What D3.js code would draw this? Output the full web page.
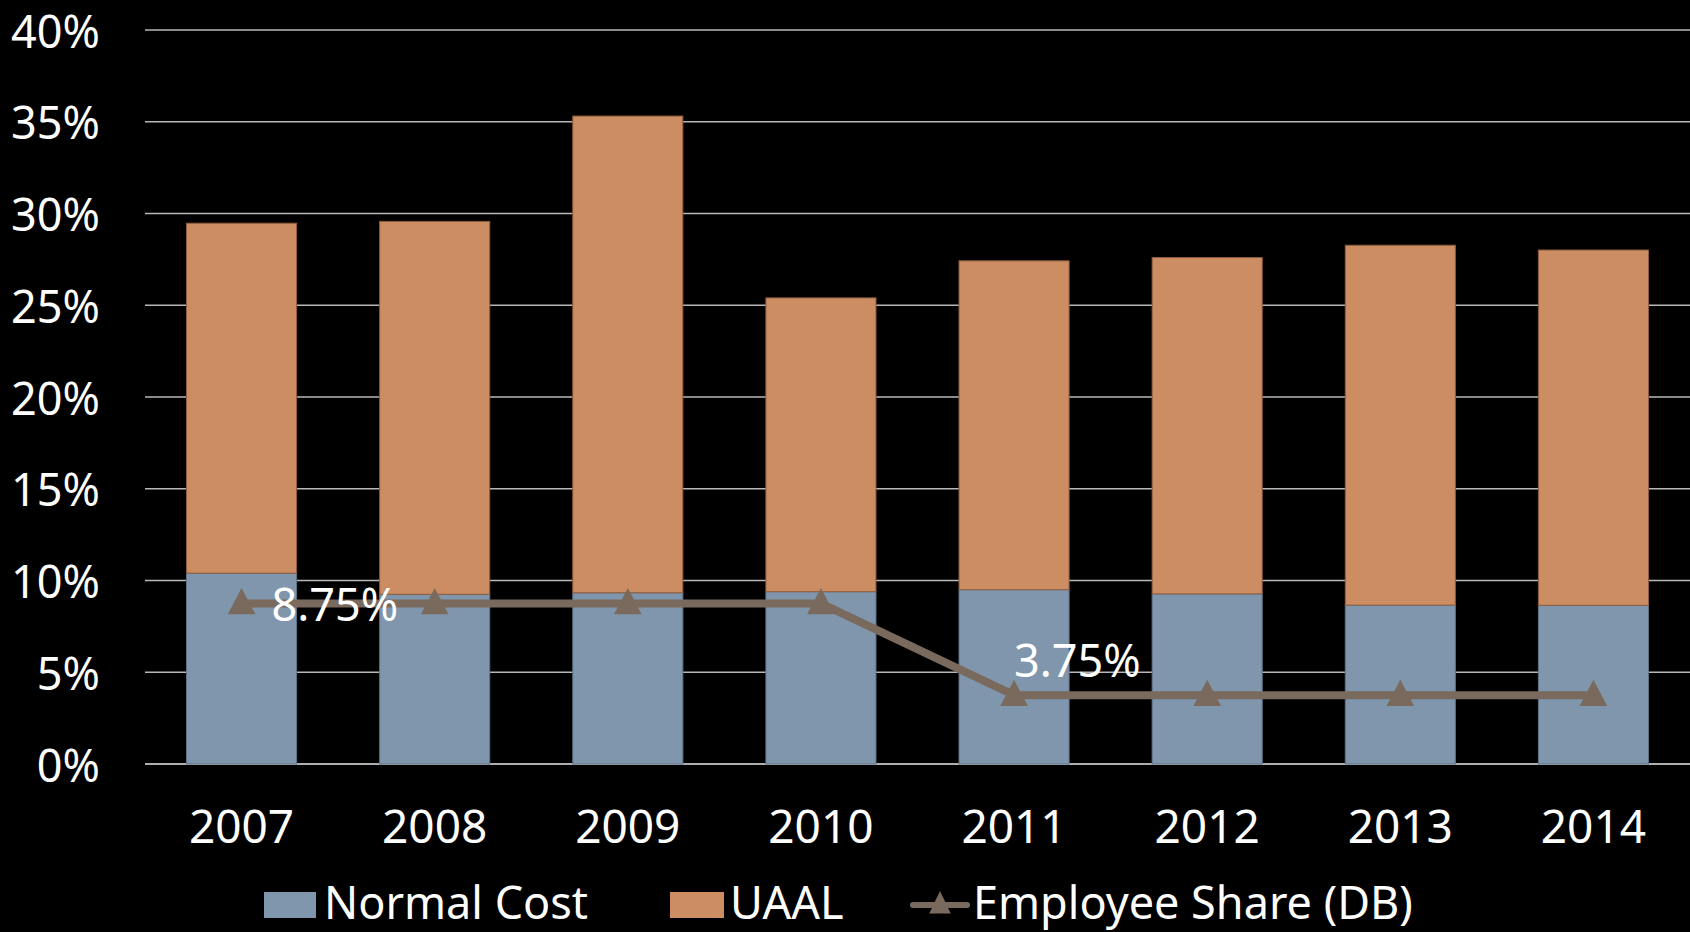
<!DOCTYPE html>
<html>
<head>
<meta charset="utf-8">
<script src="https://cdn.jsdelivr.net/npm/d3@7"></script>
<style>
  html, body { margin: 0; padding: 0; background: #000; }
  svg { display: block; }
  text { font-family: "Noto Sans", "Open Sans", sans-serif; fill: #fff; }
</style>
</head>
<body>
<svg id="chart" width="1690" height="932"></svg>
<script>
// Pension contribution rates by fiscal year (share of payroll)
const years = ["2007", "2008", "2009", "2010", "2011", "2012", "2013", "2014"];
const normalCost = [0.1040, 0.0925, 0.0933, 0.0939, 0.0950, 0.0927, 0.0866, 0.0865];
const totalRate  = [0.2947, 0.2957, 0.3531, 0.2540, 0.2742, 0.2760, 0.2827, 0.2801];
const uaal = totalRate.map((t, i) => t - normalCost[i]);
const employeeShare = [0.0875, 0.0875, 0.0875, 0.0875, 0.0375, 0.0375, 0.0375, 0.0375];
const yTicks = [0, 0.05, 0.10, 0.15, 0.20, 0.25, 0.30, 0.35, 0.40];
const shareLabels = [{ i: 0, text: "8.75%", pos: "right" }, { i: 4, text: "3.75%", pos: "above" }];
const legendItems = ["Normal Cost", "UAAL", "Employee Share (DB)"];

const colors = {
  normal: "#7f96ad", normalEdge: "#5f7488",
  uaal: "#cd8d62", uaalEdge: "#8f5d3d",
  line: "#7a6a5e", grid: "#b8b8b8"
};

const svg = d3.select("#chart");
const plotLeft = 145, plotRight = 1690, plotTop = 30, plotBottom = 764;

const x = d3.scaleBand().domain(years).range([plotLeft, plotRight]).paddingInner(0.43).paddingOuter(0.215);
const y = d3.scaleLinear().domain([0, 0.40]).range([plotBottom, plotTop]);

// gridlines
svg.append("g").selectAll("line").data(yTicks).join("line")
  .attr("x1", plotLeft).attr("x2", plotRight)
  .attr("y1", d => y(d)).attr("y2", d => y(d))
  .attr("stroke", d => d === 0 ? "#e8e8e8" : colors.grid)
  .attr("stroke-width", 1.5);

// y-axis labels
svg.append("g").selectAll("text").data(yTicks).join("text")
  .attr("x", 100).attr("y", d => y(d))
  .attr("text-anchor", "end").attr("dominant-baseline", "central")
  .attr("font-size", 45)
  .text(d => d3.format(".0%")(d));

// stacked bars
const stack = years.map((yr, i) => ({ yr, nc: normalCost[i], ua: uaal[i] }));
const bars = svg.append("g");
bars.selectAll("rect.nc").data(stack).join("rect").attr("class", "nc")
  .attr("x", d => x(d.yr)).attr("width", x.bandwidth())
  .attr("y", d => y(d.nc)).attr("height", d => y(0) - y(d.nc))
  .attr("fill", colors.normal).attr("stroke", colors.normalEdge).attr("stroke-width", 1);
bars.selectAll("rect.ua").data(stack).join("rect").attr("class", "ua")
  .attr("x", d => x(d.yr)).attr("width", x.bandwidth())
  .attr("y", d => y(d.nc + d.ua)).attr("height", d => y(d.nc) - y(d.nc + d.ua))
  .attr("fill", colors.uaal).attr("stroke", colors.uaalEdge).attr("stroke-width", 1);

// x-axis labels
svg.append("g").selectAll("text").data(years).join("text")
  .attr("x", d => x(d) + x.bandwidth() / 2).attr("y", 843)
  .attr("text-anchor", "middle").attr("font-size", 46)
  .text(d => d);

// employee share line
const cx = (i) => x(years[i]) + x.bandwidth() / 2;
const line = d3.line().x((d, i) => cx(i)).y(d => y(d));
svg.append("path").datum(employeeShare)
  .attr("d", line).attr("fill", "none")
  .attr("stroke", colors.line).attr("stroke-width", 8).attr("stroke-linejoin", "round");

const tri = d3.symbol().type(d3.symbolTriangle).size(300);
svg.append("g").selectAll("path").data(employeeShare).join("path")
  .attr("d", tri)
  .attr("transform", (d, i) => `translate(${cx(i)},${y(d) + 2}) scale(1.05,1.15)`)
  .attr("fill", colors.line);

// data labels on the line
svg.append("g").selectAll("text").data(shareLabels).join("text")
  .attr("x", d => d.pos === "right" ? cx(d.i) + 30 : cx(d.i))
  .attr("y", d => d.pos === "right" ? y(employeeShare[d.i]) + 18 : y(employeeShare[d.i]) - 18)
  .attr("font-size", 45)
  .text(d => d.text);

// legend
const lg = svg.append("g");
lg.append("rect").attr("x", 264).attr("y", 892).attr("width", 52).attr("height", 26).attr("fill", colors.normal);
lg.append("text").attr("x", 324).attr("y", 919).attr("font-size", 45).text(legendItems[0]);
lg.append("rect").attr("x", 670).attr("y", 892).attr("width", 54).attr("height", 26).attr("fill", colors.uaal);
lg.append("text").attr("x", 730).attr("y", 919).attr("font-size", 45).text(legendItems[1]);
lg.append("line").attr("x1", 913).attr("x2", 967).attr("y1", 905).attr("y2", 905)
  .attr("stroke", colors.line).attr("stroke-width", 6).attr("stroke-linecap", "round");
lg.append("path").attr("d", d3.symbol().type(d3.symbolTriangle).size(200))
  .attr("transform", "translate(940,906) scale(1,1.2)").attr("fill", colors.line);
lg.append("text").attr("x", 973).attr("y", 919).attr("font-size", 45).text(legendItems[2]);
</script>
</body>
</html>
